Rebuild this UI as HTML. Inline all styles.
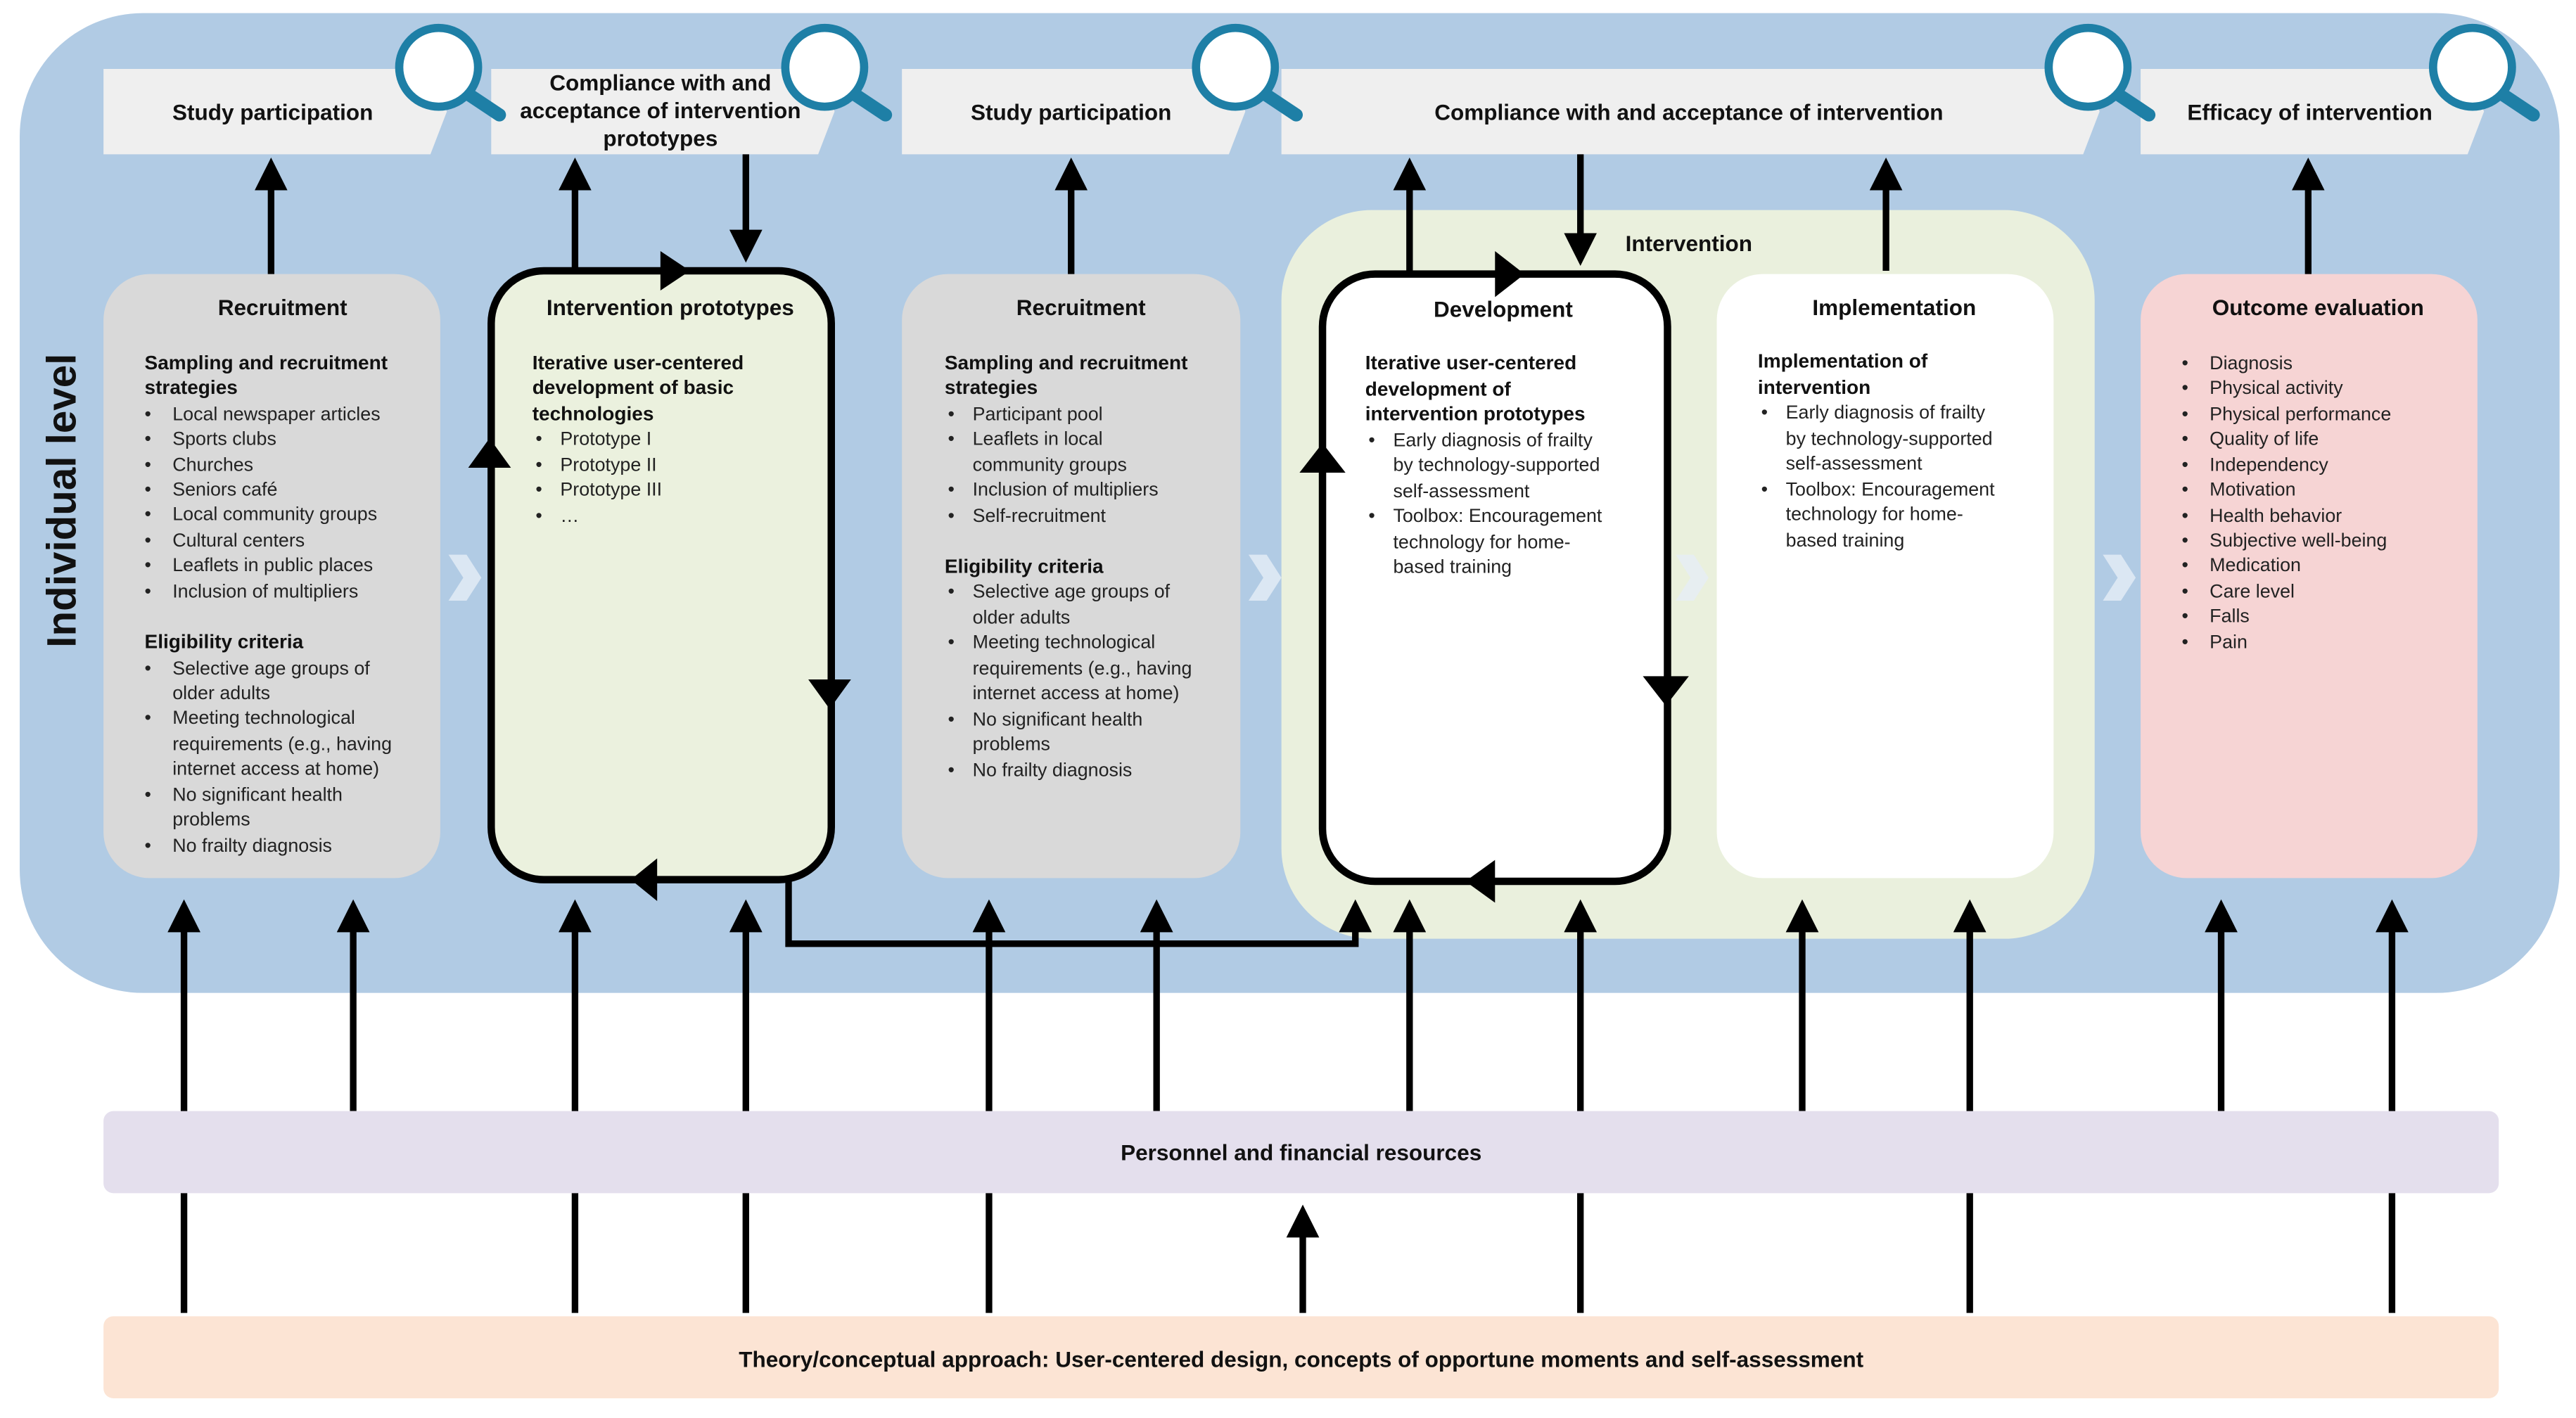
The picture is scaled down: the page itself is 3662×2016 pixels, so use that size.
<!DOCTYPE html>
<html><head><meta charset="utf-8"><style>
html,body{margin:0;padding:0;background:#fff;}
svg{display:block;}
text{font-family:"Liberation Sans",Arial,sans-serif;fill:#111;}
.h{font-weight:bold;font-size:13.5px;}
.s{font-weight:bold;font-size:12px;}
.b{font-size:11.5px;fill:#222;}
</style></head><body>
<svg width="3662" height="2016" viewBox="0 0 1568 864" preserveAspectRatio="none" xmlns="http://www.w3.org/2000/svg">
<defs>
<marker id="ah" viewBox="0 0 10 10" refX="5" refY="5" markerWidth="5" markerHeight="5" orient="auto"><path d="M0,0 L10,5 L0,10 z" fill="#000"/></marker>
</defs>
<rect width="1568" height="864" fill="#fff"/>
<rect x="12" y="8" width="1546" height="597" rx="75" fill="#b1cbe4"/>
<text x="46" y="305" transform="rotate(-90 46 305)" text-anchor="middle" style="font-size:25px;font-weight:bold;">Individual level</text>

<!-- top boxes -->
<g fill="#efefef">
<path d="M63,42 H262 L272,68 L262,94 H63 z"/>
<path d="M299,42 H498 L508,68 L498,94 H299 z"/>
<path d="M549,42 H748 L758,68 L748,94 H549 z"/>
<path d="M780,42 H1268 L1278,68 L1268,94 H780 z"/>
<path d="M1303,42 H1502 L1512,68 L1502,94 H1303 z"/>
</g>
<text class="h" x="166" y="73" text-anchor="middle">Study participation</text>
<text class="h" x="402" y="55" text-anchor="middle">Compliance with and</text>
<text class="h" x="402" y="72" text-anchor="middle">acceptance of intervention</text>
<text class="h" x="402" y="89" text-anchor="middle">prototypes</text>
<text class="h" x="652" y="73" text-anchor="middle">Study participation</text>
<text class="h" x="1028" y="73" text-anchor="middle">Compliance with and acceptance of intervention</text>
<text class="h" x="1406" y="73" text-anchor="middle">Efficacy of intervention</text>

<!-- magnifiers -->
<g fill="#fff" stroke="#1e7fa6" stroke-width="5">
<circle cx="267" cy="41" r="24"/><circle cx="502" cy="41" r="24"/><circle cx="752" cy="41" r="24"/><circle cx="1271" cy="41" r="24"/><circle cx="1505" cy="41" r="24"/>
</g>
<g stroke="#1e7fa6" stroke-width="8" stroke-linecap="round">
<line x1="286" y1="58" x2="304" y2="70"/><line x1="521" y1="58" x2="539" y2="70"/><line x1="771" y1="58" x2="789" y2="70"/><line x1="1290" y1="58" x2="1308" y2="70"/><line x1="1524" y1="58" x2="1542" y2="70"/>
</g>

<!-- intervention container -->
<rect x="780" y="128" width="495" height="444" rx="55" fill="#eaf0dd"/>
<text class="h" x="1028" y="153" text-anchor="middle">Intervention</text>

<!-- small chevrons -->
<g fill="#e6eef6" opacity="0.8">
<path d="M273,338 L284,338 L293,352 L284,366 L273,366 L282,352z"/>
<path d="M760,338 L771,338 L780,352 L771,366 L760,366 L769,352z"/>
<path d="M1020,338 L1031,338 L1040,352 L1031,366 L1020,366 L1029,352z"/>
<path d="M1280,338 L1291,338 L1300,352 L1291,366 L1280,366 L1289,352z"/>
</g>

<!-- columns -->
<rect x="63" y="167" width="205" height="368" rx="28" fill="#d9d9d9"/>
<rect x="299" y="165" width="207" height="371" rx="32" fill="#ebf1de" stroke="#000" stroke-width="4.5"/>
<rect x="549" y="167" width="206" height="368" rx="28" fill="#d9d9d9"/>
<rect x="805" y="167" width="210" height="370" rx="32" fill="#fff" stroke="#000" stroke-width="4.5"/>
<rect x="1045" y="167" width="205" height="368" rx="28" fill="#fff"/>
<rect x="1303" y="167" width="205" height="368" rx="28" fill="#f6d4d4"/>

<!-- col 1 -->
<text class="h" x="172" y="192" text-anchor="middle">Recruitment</text>
<text class="s" x="88" y="225">Sampling and recruitment</text><text class="s" x="88" y="240">strategies</text>
<text class="b" x="88" y="256">•</text><text class="b" x="105" y="256">Local newspaper articles</text>
<text class="b" x="88" y="271">•</text><text class="b" x="105" y="271">Sports clubs</text>
<text class="b" x="88" y="287">•</text><text class="b" x="105" y="287">Churches</text>
<text class="b" x="88" y="302">•</text><text class="b" x="105" y="302">Seniors café</text>
<text class="b" x="88" y="317">•</text><text class="b" x="105" y="317">Local community groups</text>
<text class="b" x="88" y="333">•</text><text class="b" x="105" y="333">Cultural centers</text>
<text class="b" x="88" y="348">•</text><text class="b" x="105" y="348">Leaflets in public places</text>
<text class="b" x="88" y="364">•</text><text class="b" x="105" y="364">Inclusion of multipliers</text>
<text class="s" x="88" y="395">Eligibility criteria</text>
<text class="b" x="88" y="411">•</text><text class="b" x="105" y="411">Selective age groups of</text><text class="b" x="105" y="426">older adults</text>
<text class="b" x="88" y="441">•</text><text class="b" x="105" y="441">Meeting technological</text><text class="b" x="105" y="457">requirements (e.g., having</text><text class="b" x="105" y="472">internet access at home)</text>
<text class="b" x="88" y="488">•</text><text class="b" x="105" y="488">No significant health</text><text class="b" x="105" y="503">problems</text>
<text class="b" x="88" y="519">•</text><text class="b" x="105" y="519">No frailty diagnosis</text>

<!-- col 2 -->
<text class="h" x="408" y="192" text-anchor="middle">Intervention prototypes</text>
<text class="s" x="324" y="225">Iterative user-centered</text><text class="s" x="324" y="240">development of basic</text><text class="s" x="324" y="256">technologies</text>
<text class="b" x="326" y="271">•</text><text class="b" x="341" y="271">Prototype I</text>
<text class="b" x="326" y="287">•</text><text class="b" x="341" y="287">Prototype II</text>
<text class="b" x="326" y="302">•</text><text class="b" x="341" y="302">Prototype III</text>
<text class="b" x="326" y="318">•</text><text class="b" x="341" y="318">…</text>

<!-- col 3 -->
<text class="h" x="658" y="192" text-anchor="middle">Recruitment</text>
<text class="s" x="575" y="225">Sampling and recruitment</text><text class="s" x="575" y="240">strategies</text>
<text class="b" x="577" y="256">•</text><text class="b" x="592" y="256">Participant pool</text>
<text class="b" x="577" y="271">•</text><text class="b" x="592" y="271">Leaflets in local</text><text class="b" x="592" y="287">community groups</text>
<text class="b" x="577" y="302">•</text><text class="b" x="592" y="302">Inclusion of multipliers</text>
<text class="b" x="577" y="318">•</text><text class="b" x="592" y="318">Self-recruitment</text>
<text class="s" x="575" y="349">Eligibility criteria</text>
<text class="b" x="577" y="364">•</text><text class="b" x="592" y="364">Selective age groups of</text><text class="b" x="592" y="380">older adults</text>
<text class="b" x="577" y="395">•</text><text class="b" x="592" y="395">Meeting technological</text><text class="b" x="592" y="411">requirements (e.g., having</text><text class="b" x="592" y="426">internet access at home)</text>
<text class="b" x="577" y="442">•</text><text class="b" x="592" y="442">No significant health</text><text class="b" x="592" y="457">problems</text>
<text class="b" x="577" y="473">•</text><text class="b" x="592" y="473">No frailty diagnosis</text>

<!-- development -->
<text class="h" x="915" y="193" text-anchor="middle">Development</text>
<text class="s" x="831" y="225">Iterative user-centered</text><text class="s" x="831" y="241">development of</text><text class="s" x="831" y="256">intervention prototypes</text>
<text class="b" x="833" y="272">•</text><text class="b" x="848" y="272">Early diagnosis of frailty</text><text class="b" x="848" y="287">by technology-supported</text><text class="b" x="848" y="303">self-assessment</text>
<text class="b" x="833" y="318">•</text><text class="b" x="848" y="318">Toolbox: Encouragement</text><text class="b" x="848" y="334">technology for home-</text><text class="b" x="848" y="349">based training</text>

<!-- implementation -->
<text class="h" x="1153" y="192" text-anchor="middle">Implementation</text>
<text class="s" x="1070" y="224">Implementation of</text><text class="s" x="1070" y="240">intervention</text>
<text class="b" x="1072" y="255">•</text><text class="b" x="1087" y="255">Early diagnosis of frailty</text><text class="b" x="1087" y="271">by technology-supported</text><text class="b" x="1087" y="286">self-assessment</text>
<text class="b" x="1072" y="302">•</text><text class="b" x="1087" y="302">Toolbox: Encouragement</text><text class="b" x="1087" y="317">technology for home-</text><text class="b" x="1087" y="333">based training</text>

<!-- outcome -->
<text class="h" x="1411" y="192" text-anchor="middle">Outcome evaluation</text>
<text class="b" x="1328" y="225">•</text><text class="b" x="1345" y="225">Diagnosis</text>
<text class="b" x="1328" y="240">•</text><text class="b" x="1345" y="240">Physical activity</text>
<text class="b" x="1328" y="256">•</text><text class="b" x="1345" y="256">Physical performance</text>
<text class="b" x="1328" y="271">•</text><text class="b" x="1345" y="271">Quality of life</text>
<text class="b" x="1328" y="287">•</text><text class="b" x="1345" y="287">Independency</text>
<text class="b" x="1328" y="302">•</text><text class="b" x="1345" y="302">Motivation</text>
<text class="b" x="1328" y="318">•</text><text class="b" x="1345" y="318">Health behavior</text>
<text class="b" x="1328" y="333">•</text><text class="b" x="1345" y="333">Subjective well-being</text>
<text class="b" x="1328" y="348">•</text><text class="b" x="1345" y="348">Medication</text>
<text class="b" x="1328" y="364">•</text><text class="b" x="1345" y="364">Care level</text>
<text class="b" x="1328" y="379">•</text><text class="b" x="1345" y="379">Falls</text>
<text class="b" x="1328" y="395">•</text><text class="b" x="1345" y="395">Pain</text>

<!-- arrows up to top boxes / down -->
<g stroke="#000" stroke-width="4" marker-end="url(#ah)">
<line x1="165" y1="167" x2="165" y2="106"/>
<line x1="350" y1="163" x2="350" y2="106"/>
<line x1="454" y1="94" x2="454" y2="150"/>
<line x1="652" y1="167" x2="652" y2="106"/>
<line x1="858" y1="165" x2="858" y2="106"/>
<line x1="962" y1="94" x2="962" y2="152"/>
<line x1="1148" y1="165" x2="1148" y2="106"/>
<line x1="1405" y1="167" x2="1405" y2="106"/>
</g>
<!-- loop arrowheads -->
<g fill="#000">
<path d="M402,153 L420,165 L402,177z"/>
<path d="M492,414 L518,414 L505,432z"/>
<path d="M400,523 L384,536 L400,549z"/>
<path d="M285,285 L311,285 L298,267z"/>
<path d="M910,153 L928,167 L910,181z"/>
<path d="M1000,412 L1028,412 L1014,430z"/>
<path d="M910,524 L892,537 L910,550z"/>
<path d="M791,288 L819,288 L805,270z"/>
</g>
<!-- connector -->
<path d="M480,537 V575 H825 V558" fill="none" stroke="#000" stroke-width="4" marker-end="url(#ah)"/>

<!-- bottom lines -->
<g stroke="#000" stroke-width="4">
<line x1="112" y1="800" x2="112" y2="558" marker-end="url(#ah)"/>
<line x1="215" y1="677" x2="215" y2="558" marker-end="url(#ah)"/>
<line x1="350" y1="800" x2="350" y2="558" marker-end="url(#ah)"/>
<line x1="454" y1="800" x2="454" y2="558" marker-end="url(#ah)"/>
<line x1="602" y1="800" x2="602" y2="558" marker-end="url(#ah)"/>
<line x1="704" y1="677" x2="704" y2="558" marker-end="url(#ah)"/>
<line x1="858" y1="677" x2="858" y2="558" marker-end="url(#ah)"/>
<line x1="962" y1="800" x2="962" y2="558" marker-end="url(#ah)"/>
<line x1="1097" y1="677" x2="1097" y2="558" marker-end="url(#ah)"/>
<line x1="1199" y1="800" x2="1199" y2="558" marker-end="url(#ah)"/>
<line x1="1352" y1="677" x2="1352" y2="558" marker-end="url(#ah)"/>
<line x1="1456" y1="800" x2="1456" y2="558" marker-end="url(#ah)"/>
<line x1="793" y1="800" x2="793" y2="744" marker-end="url(#ah)"/>
</g>

<rect x="63" y="677" width="1458" height="50" rx="6" fill="#e4dfed"/>
<text class="h" x="792" y="707" text-anchor="middle">Personnel and financial resources</text>
<rect x="63" y="802" width="1458" height="50" rx="6" fill="#fce4d4"/>
<text class="h" x="792" y="833" text-anchor="middle">Theory/conceptual approach: User-centered design, concepts of opportune moments and self-assessment</text>
</svg>
</body></html>
